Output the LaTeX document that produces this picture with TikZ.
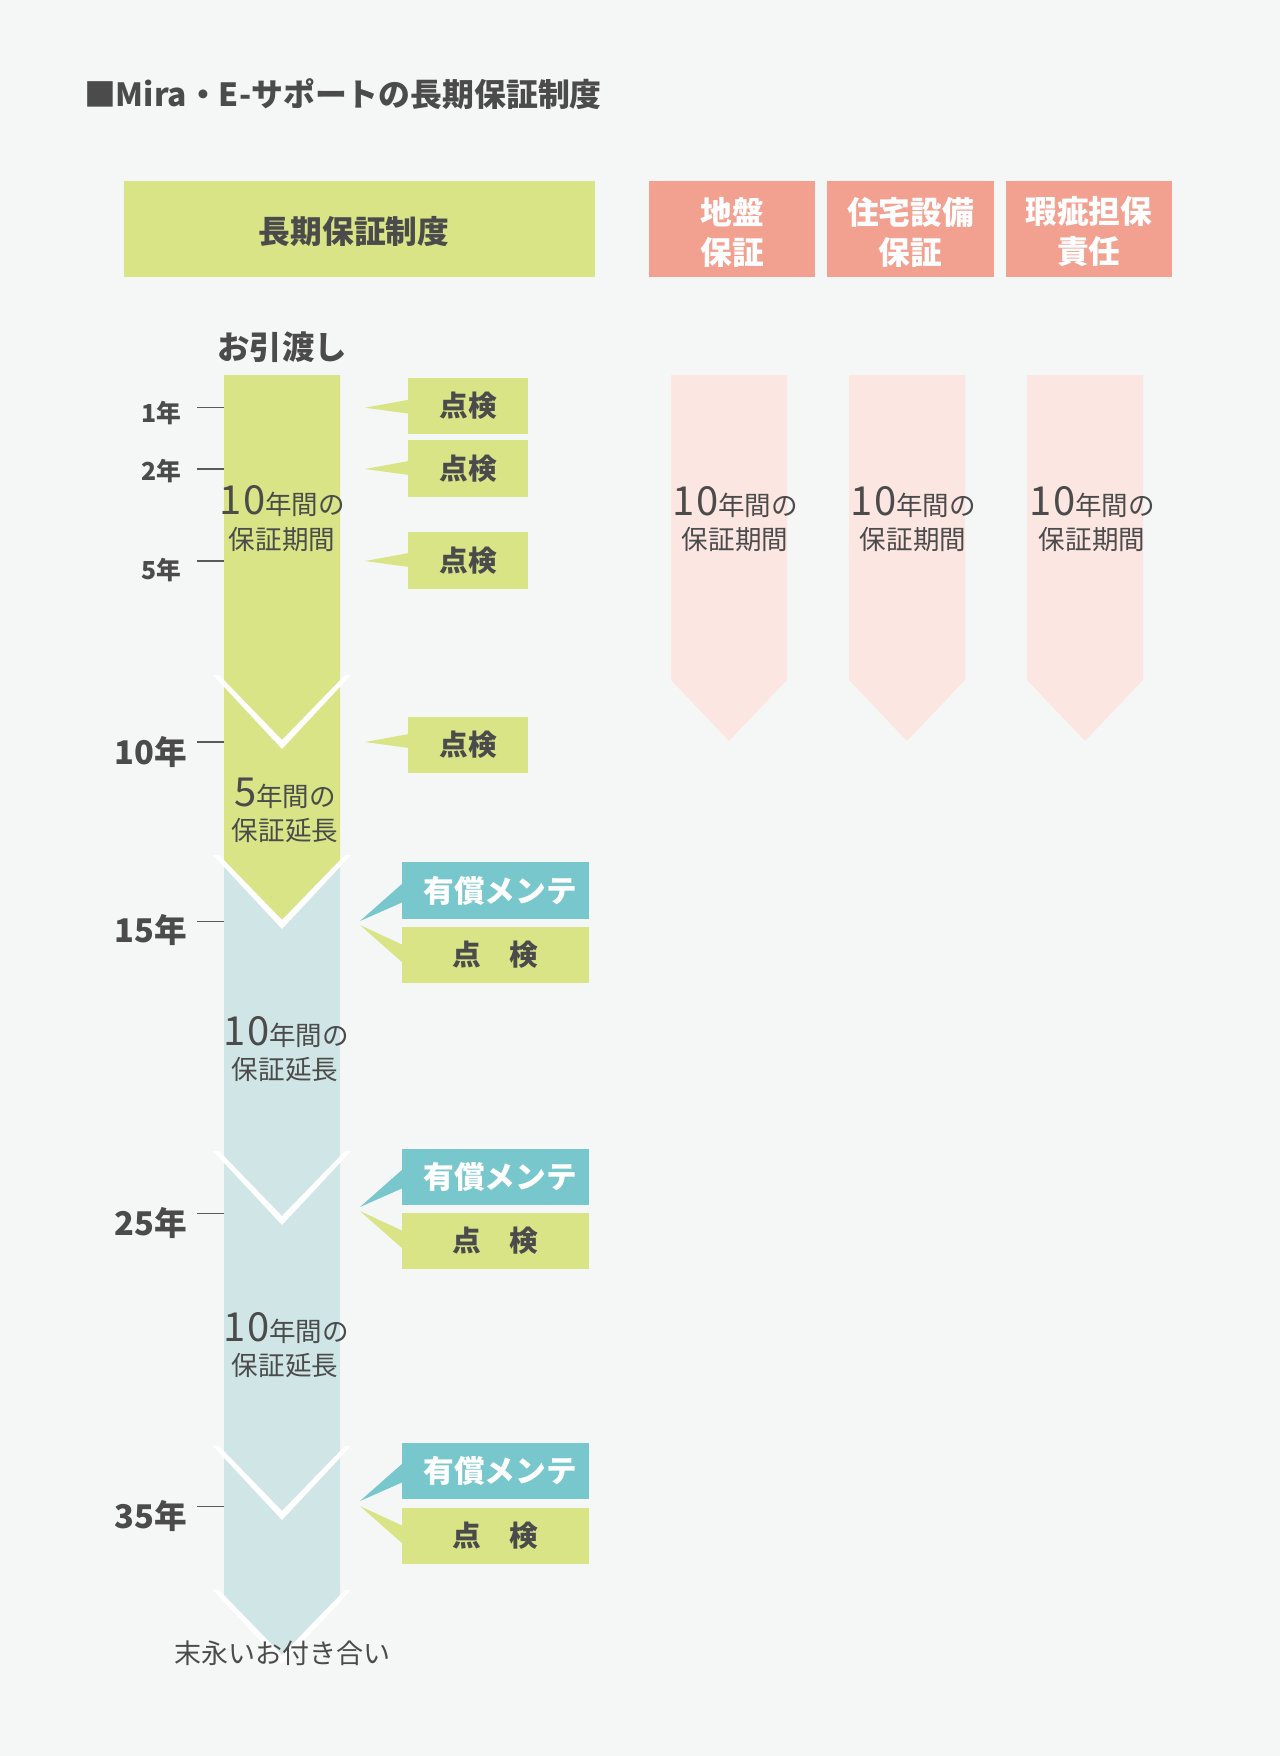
\documentclass[tikz,border=0pt]{standalone}
\usepackage{fontspec}
\setmainfont{Noto Sans CJK JP}
\newcommand\fsz[1]{\fontsize{#1}{#1}\selectfont}
\definecolor{bgc}{HTML}{F5F7F6}
\definecolor{grn}{HTML}{D8E486}
\definecolor{barb}{HTML}{D0E6E6}
\definecolor{tealc}{HTML}{78C7CC}
\definecolor{pinkd}{HTML}{F2A090}
\definecolor{pinkl}{HTML}{FCE6E2}
\definecolor{txt}{HTML}{4B4B4B}
\definecolor{tickc}{HTML}{5A5A5A}
\newcommand\whitev[1]{\fill[white] (213,{#1-5}) -- (282,{#1+69}) -- (351,{#1-5}) -- (345,{#1-5}) -- (282,{#1+60}) -- (219,{#1-5}) -- cycle;}
\begin{document}
\begin{tikzpicture}[x=0.75pt,y=-0.75pt,
  every node/.style={inner sep=0pt,outer sep=0pt,text=txt},
  titlet/.style={font=\bfseries\fsz{23.9pt}},
  headt/.style={font=\bfseries\fsz{23.8pt}},
  pinkt/.style={font=\bfseries\fsz{23.8pt},text=white,align=center,
     execute at begin node={\setlength{\baselineskip}{30pt}}},
  greenhead/.style={fill=grn,minimum width=353.25pt,minimum height=72pt},
  pinkhead/.style={fill=pinkd,minimum width=124.9pt,minimum height=72pt},
  yrs/.style={font=\bfseries\fsz{18.6pt},anchor=east},
  yrb/.style={font=\bfseries\fsz{24.5pt},anchor=east},
  tickl/.style={draw=tickc,line width=1.1pt},
  bart/.style={font=\fsz{19.9pt}},
  chkbox/.style={fill=grn,minimum width=90.2pt,minimum height=42.4pt,font=\bfseries\fsz{21.5pt}},
  chkwide/.style={fill=grn,minimum width=140.25pt,minimum height=42.4pt,font=\bfseries\fsz{21.5pt}},
  mntbox/.style={fill=tealc,minimum width=140.25pt,minimum height=42.4pt},
  mntt/.style={font=\bfseries\fsz{23pt},text=white}
]
% background / bounding box
\fill[bgc] (0,0) rectangle (1280,1756);
\useasboundingbox (0,0) rectangle (1280,1756);

% title
\node[titlet,anchor=west] (title) at (84,94) {■Mira・E-サポートの長期保証制度};

% headers
\node[greenhead] (hmain) at (359.5,229) {};
\node[headt] (hmaint) at (354,232) {長期保証制度};
\node[pinkhead] (hp1) at (732.2,229) {};
\node[pinkhead] (hp2) at (910.5,229) {};
\node[pinkhead] (hp3) at (1088.8,229) {};
\node[pinkt] (hp1t) at (732.5,232) {地盤\\保証};
\node[pinkt] (hp2t) at (910.5,232) {住宅設備\\保証};
\node[pinkt] (hp3t) at (1088.8,232) {瑕疵担保\\責任};

% pink arrows
\fill[pinkl] (671,375) -- (787,375) -- (787,680) -- (729,741) -- (671,680) -- cycle;
\fill[pinkl] (849,375) -- (965,375) -- (965,680) -- (907,741) -- (849,680) -- cycle;
\fill[pinkl] (1027,375) -- (1143,375) -- (1143,680) -- (1085,741) -- (1027,680) -- cycle;

% main bar blocks (bottom first)
\fill[barb] (224,1451) -- (340,1451) -- (340,1595) -- (282,1655) -- (224,1595) -- cycle;
\fill[barb] (224,1156) -- (340,1156) -- (340,1451) -- (282,1511) -- (224,1451) -- cycle;
\fill[barb] (224,860) -- (340,860) -- (340,1156) -- (282,1216) -- (224,1156) -- cycle;
\fill[grn] (224,680) -- (340,680) -- (340,860) -- (282,920) -- (224,860) -- cycle;
\fill[grn] (224,375) -- (340,375) -- (340,680) -- (282,740) -- (224,680) -- cycle;
\whitev{680}
\whitev{860}
\whitev{1156}
\whitev{1451}
\whitev{1595}

% handover label
\node[font=\bfseries\fsz{24.3pt}] (hand) at (282,347) {お引渡し};

% year labels and ticks
\node[yrs] (y1) at (181,413.5) {1年};
\node[yrs] (y2) at (181,471.5) {2年};
\node[yrs] (y5) at (181,570) {5年};
\node[yrb] (y10) at (187,752.5) {10年};
\node[yrb] (y15) at (187,930) {15年};
\node[yrb] (y25) at (187,1223) {25年};
\node[yrb] (y35) at (187,1516) {35年};
\draw[tickl] (197,407.7) -- (224,407.7);
\draw[tickl] (197,469) -- (224,469);
\draw[tickl] (197,561) -- (224,561);
\draw[tickl] (197,742) -- (224,742);
\draw[tickl] (197,921.7) -- (224,921.7);
\draw[tickl] (197,1213.3) -- (224,1213.3);
\draw[tickl] (197,1506.7) -- (224,1506.7);

% bar texts
\node[bart,anchor=base] (a1) at (282,514) {{\fsz{30pt}1\kern1.5pt0}年間の};
\node[bart] (a2) at (282,540) {保証期間};
\node[bart,anchor=base] (b1) at (285,806) {{\fsz{30pt}5}年間の};
\node[bart] (b2) at (285,831) {保証延長};
\node[bart,anchor=base] (c1) at (286,1045) {{\fsz{30pt}1\kern1.5pt0}年間の};
\node[bart] (c2) at (285,1070) {保証延長};
\node[bart,anchor=base] (d1) at (286,1341) {{\fsz{30pt}1\kern1.5pt0}年間の};
\node[bart] (d2) at (285,1366) {保証延長};
\node[font=\fsz{20.25pt}] (endt) at (282,1653) {末永いお付き合い};

% pink texts
\node[bart,anchor=base] (p1a) at (735,515) {{\fsz{30pt}1\kern1.5pt0}年間の};
\node[bart] (p1b) at (735,540) {保証期間};
\node[bart,anchor=base] (p2a) at (913,515) {{\fsz{30pt}1\kern1.5pt0}年間の};
\node[bart] (p2b) at (913,540) {保証期間};
\node[bart,anchor=base] (p3a) at (1092,515) {{\fsz{30pt}1\kern1.5pt0}年間の};
\node[bart] (p3b) at (1092,540) {保証期間};

% single check callouts
\fill[grn] (365,407.7) -- (409,399.7) -- (409,413.7) -- cycle;
\node[chkbox] (k1) at (468,406) {点検};
\fill[grn] (365,469) -- (409,461) -- (409,475) -- cycle;
\node[chkbox] (k2) at (468,468.5) {点検};
\fill[grn] (365,561) -- (409,553) -- (409,567) -- cycle;
\node[chkbox] (k5) at (468,560.5) {点検};
\fill[grn] (365,742) -- (409,734) -- (409,748) -- cycle;
\node[chkbox] (k10) at (468,745) {点検};

% double callouts 15
\fill[tealc] (360,921) -- (403,883) -- (403,902) -- cycle;
\node[mntbox] (m15) at (495.5,890.5) {};
\node[mntt] (m15t) at (500,890.5) {有償メンテ};
\fill[grn] (360,925) -- (403,945) -- (403,963) -- cycle;
\node[chkwide] (c15) at (495.5,955) {点　検};
% 25
\fill[tealc] (360,1207) -- (403,1169) -- (403,1188) -- cycle;
\node[mntbox] (m25) at (495.5,1177) {};
\node[mntt] (m25t) at (500,1177) {有償メンテ};
\fill[grn] (360,1211) -- (403,1231) -- (403,1249) -- cycle;
\node[chkwide] (c25) at (495.5,1241) {点　検};
% 35
\fill[tealc] (360,1501) -- (403,1463) -- (403,1482) -- cycle;
\node[mntbox] (m35) at (495.5,1471) {};
\node[mntt] (m35t) at (500,1471) {有償メンテ};
\fill[grn] (360,1506) -- (403,1526) -- (403,1544) -- cycle;
\node[chkwide] (c35) at (495.5,1536) {点　検};
\end{tikzpicture}
\end{document}
